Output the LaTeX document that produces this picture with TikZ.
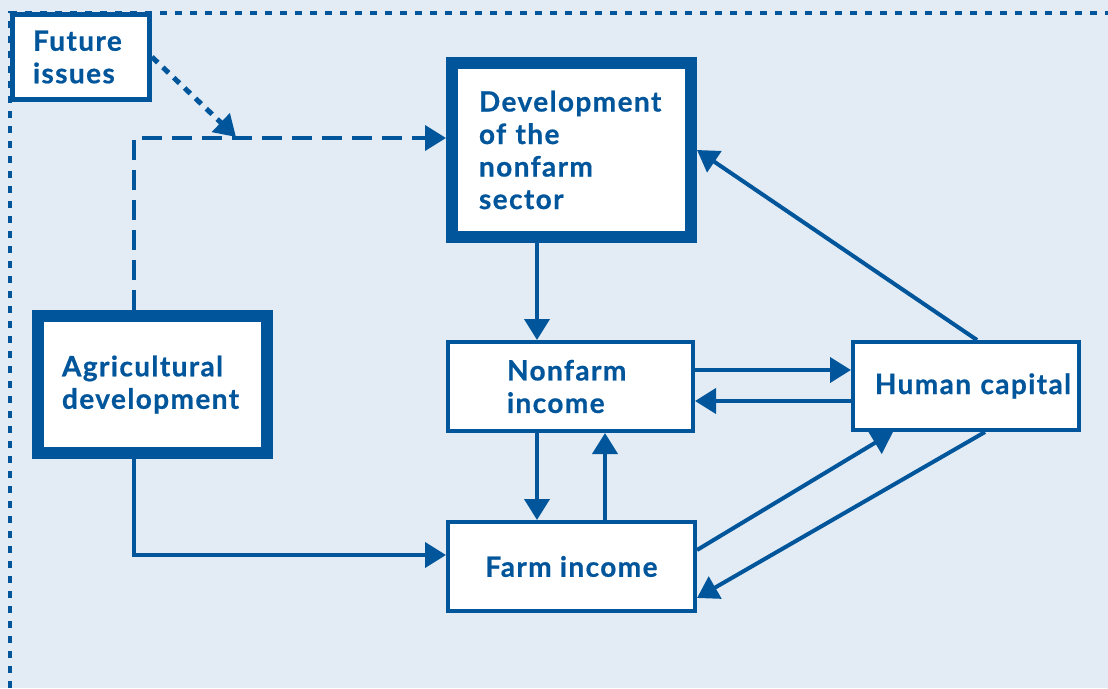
\documentclass[tikz,border=0pt]{standalone}
\usepackage{fontspec}
\setsansfont{Lato}[BoldFeatures={LetterSpace=5,FakeBold=0.6}]
\usetikzlibrary{arrows.meta,calc}
\definecolor{dblue}{RGB}{0,85,155}
\definecolor{bgblue}{RGB}{227,236,244}
\tikzset{
  txt/.style={font=\sffamily\bfseries\fontsize{28}{32.5}\selectfont, text=dblue},
  thickbox/.style={draw=dblue, fill=white, line width=12pt, inner sep=0pt, txt},
  thinbox/.style={draw=dblue, fill=white, line width=4pt, inner sep=0pt, txt},
  arr/.style={draw=dblue, line width=4pt, -{Triangle[length=21pt,width=25pt]}},
  dashedarr/.style={arr, dash pattern=on 20pt off 10pt},
  dottedarr/.style={draw=dblue, line width=5pt, dash pattern=on 8pt off 7pt, -{Triangle[length=21pt,width=25pt]}},
  border/.style={draw=dblue, line width=4pt, dash pattern=on 7pt off 8pt}
}
\begin{document}
\begin{tikzpicture}[x=1pt,y=-1pt]
\fill[bgblue] (0,0) rectangle (1108,688);
\useasboundingbox (0,0) rectangle (1108,688);
\coordinate (bl) at (10,688);
\coordinate (tr) at (1108,13);
\draw[border] (bl) |- (tr);

\node[thickbox, minimum width=239pt, minimum height=174pt, text width=185pt, align=left] (dev) at (571.5,150) {Development\\of the\\nonfarm\\sector};
\node[thickbox, minimum width=229pt, minimum height=137pt, text width=181pt, align=left] (agdev) at (152.5,384.5) {Agricultural\\development};
\node[thinbox, minimum width=245pt, minimum height=89pt, text width=127pt, align=left] (nonfarm) at (570.5,386.5) {Nonfarm\\income};
\node[thinbox, minimum width=226pt, minimum height=88pt, text width=224pt, align=center] (hc) at (966,386) {\hspace*{14pt}Human capital};
\node[thinbox, minimum width=247pt, minimum height=89pt, align=center] (farm) at (571.5,566.5) {Farm income};
\node[draw=dblue, fill=white, line width=5pt, inner sep=0pt, txt, minimum width=137pt, minimum height=85pt, text width=96pt, align=left] (future) at (81,57) {Future\\issues};

\coordinate (dx) at (134,138);
\coordinate (fi) at (236,137);
\coordinate (c1) at (537,0);
\coordinate (c2) at (605,0);
\coordinate (r1) at (0,370);
\coordinate (r2) at (0,401);
\coordinate (h1) at (977,0);
\coordinate (h2) at (893,0);
\coordinate (h3) at (985,0);
\coordinate (f1) at (0,550);
\coordinate (f2) at (0,598);
\coordinate (f3) at (0,555);

\draw[dashedarr] (agdev.north -| dx) |- (dev.west |- dx);
\draw[dottedarr] (future.east) -- (fi);
\draw[arr] (dev.south -| c1) -- (nonfarm.north -| c1);
\draw[arr] (nonfarm.south -| c1) -- (farm.north -| c1);
\draw[arr] (farm.north -| c2) -- (nonfarm.south -| c2);
\draw[arr] (nonfarm.east |- r1) -- (hc.west |- r1);
\draw[arr] (hc.west |- r2) -- (nonfarm.east |- r2);
\draw[arr] (hc.north -| h1) -- (dev.east);
\draw[arr] (farm.east |- f1) -- (hc.south -| h2);
\draw[arr] (hc.south -| h3) -- (farm.east |- f2);
\draw[arr] (agdev.south -| dx) |- (farm.west |- f3);
\end{tikzpicture}
\end{document}
